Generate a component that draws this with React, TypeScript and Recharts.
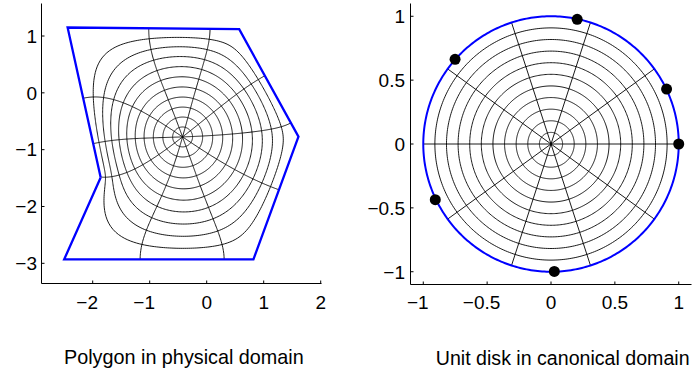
import React from 'react';
import { ScatterChart, Scatter, XAxis, YAxis } from 'recharts';

// ---------------- data ----------------
// Polygon vertices (physical domain), counter-clockwise, starting at the re-entrant corner
const VERTEX_X = [-1.86, -2.5, 0.82, 1.61, 0.57, -2.44];
const VERTEX_Y = [-1.49, -2.93, -2.93, -0.77, 1.12, 1.15];
// Prevertices on the unit circle (canonical domain), same order
const PREVERTEX_X = [1.0, 0.905, 0.205, -0.751, -0.906, 0.026];
const PREVERTEX_Y = [0.0, 0.43, 0.976, 0.663, -0.436, -0.998];
// Grid in the canonical domain
const GRID_RADII = [0.0909, 0.1818, 0.2727, 0.3636, 0.4545, 0.5455, 0.6364, 0.7273, 0.8182, 0.9091];
const GRID_ANGLES_DEG = [0, 36, 72, 108, 144, 180, 216, 252, 288, 324];
// Axes
const LEFT_X_TICKS = [-2, -1, 0, 1, 2];
const LEFT_Y_TICKS = [-3, -2, -1, 0, 1];
const LEFT_X_DOMAIN: [number, number] = [-2.898, 2.014];
const LEFT_Y_DOMAIN: [number, number] = [-3.355, 1.572];
const RIGHT_TICKS = [-1, -0.5, 0, 0.5, 1];
const RIGHT_DOMAIN: [number, number] = [-1.1, 1.1];
const TITLES = ['Polygon in physical domain', 'Unit disk in canonical domain'];

// ---------------- Schwarz–Christoffel disk map built from the data ----------------
type Cx = [number, number];
const N_V = VERTEX_X.length;
const preAng: number[] = PREVERTEX_X.map((x, i) => Math.atan2(PREVERTEX_Y[i], x));
const beta: number[] = VERTEX_X.map((_, k) => {
  const p = (k + N_V - 1) % N_V;
  const q = (k + 1) % N_V;
  const ix = VERTEX_X[k] - VERTEX_X[p];
  const iy = VERTEX_Y[k] - VERTEX_Y[p];
  const ox = VERTEX_X[q] - VERTEX_X[k];
  const oy = VERTEX_Y[q] - VERTEX_Y[k];
  const turn = Math.atan2(ix * oy - iy * ox, ix * ox + iy * oy);
  return -turn / Math.PI;
});

// prod (1 - z/w_k)^beta_k at z = r e^{i theta}, with q = 1 - r given accurately
function integrand(r: number, q: number, theta: number): Cx {
  let lr = 0;
  let li = 0;
  for (let k = 0; k < N_V; k++) {
    const phi = theta - preAng[k];
    const sh = Math.sin(phi / 2);
    const ur = q + 2 * r * sh * sh;
    const ui = -r * Math.sin(phi);
    lr += beta[k] * 0.5 * Math.log(ur * ur + ui * ui);
    li += beta[k] * Math.atan2(ui, ur);
  }
  const m = Math.exp(lr);
  return [m * Math.cos(li), m * Math.sin(li)];
}

function rayUniform(theta: number, n: number): Cx[] {
  const c = Math.cos(theta);
  const s = Math.sin(theta);
  const h = 1 / n;
  const out: Cx[] = [[0, 0]];
  let ar = 0;
  let ai = 0;
  for (let j = 0; j < n; j++) {
    const r = (j + 0.5) * h;
    const f = integrand(r, 1 - r, theta);
    ar += (f[0] * c - f[1] * s) * h;
    ai += (f[0] * s + f[1] * c) * h;
    out.push([ar, ai]);
  }
  return out;
}

function rayEnd(theta: number): Cx {
  const c = Math.cos(theta);
  const s = Math.sin(theta);
  const n = 6000;
  const p = 4;
  let ar = 0;
  let ai = 0;
  for (let j = 0; j < n; j++) {
    const t = (j + 0.5) / n;
    const q = Math.pow(1 - t, p);
    const dr = (p * Math.pow(1 - t, p - 1)) / n;
    const f = integrand(1 - q, q, theta);
    ar += (f[0] * c - f[1] * s) * dr;
    ai += (f[0] * s + f[1] * c) * dr;
  }
  return [ar, ai];
}

const Ik: Cx[] = preAng.map((a) => rayEnd(a));
let sIr = 0, sIi = 0, sII = 0, sVr = 0, sVi = 0, sIVr = 0, sIVi = 0;
for (let k = 0; k < N_V; k++) {
  const [a, b] = Ik[k];
  sIr += a; sIi += b; sII += a * a + b * b;
  sVr += VERTEX_X[k]; sVi += VERTEX_Y[k];
  sIVr += a * VERTEX_X[k] + b * VERTEX_Y[k];
  sIVi += a * VERTEX_Y[k] - b * VERTEX_X[k];
}
const det = N_V * sII - (sIr * sIr + sIi * sIi);
const Cr = (N_V * sIVr - (sIr * sVr + sIi * sVi)) / det;
const Ci = (N_V * sIVi - (sIr * sVi - sIi * sVr)) / det;
const Ar = (sVr - (sIr * Cr - sIi * Ci)) / N_V;
const Ai = (sVi - (sIr * Ci + sIi * Cr)) / N_V;
const mapPt = (I: Cx) => ({ x: Ar + Cr * I[0] - Ci * I[1], y: Ai + Cr * I[1] + Ci * I[0] });

const STEPS = 550;
const N_THETA = 360;
const rays: Cx[][] = [];
for (let j = 0; j < N_THETA; j++) rays.push(rayUniform((2 * Math.PI * j) / N_THETA, STEPS));

type P = { x: number; y: number };
const physCircles: P[][] = GRID_RADII.map((r) => {
  const idx = Math.round(r * STEPS);
  const pts = rays.map((ray) => mapPt(ray[idx]));
  pts.push(pts[0]);
  return pts;
});
const physRadials: P[][] = GRID_ANGLES_DEG.map((d) => {
  const ray = rays[Math.round((d / 360) * N_THETA) % N_THETA];
  const pts: P[] = [];
  for (let i = 0; i <= STEPS; i += 5) pts.push(mapPt(ray[i]));
  return pts;
});
const polygon: P[] = [...VERTEX_X.map((x, i) => ({ x, y: VERTEX_Y[i] })), { x: VERTEX_X[0], y: VERTEX_Y[0] }];

const circlePts = (r: number): P[] => {
  const pts: P[] = [];
  for (let j = 0; j <= 360; j++) {
    const t = (2 * Math.PI * j) / 360;
    pts.push({ x: r * Math.cos(t), y: r * Math.sin(t) });
  }
  return pts;
};
const diskCircles = GRID_RADII.map(circlePts);
const diskRadials: P[][] = GRID_ANGLES_DEG.map((d) => {
  const t = (d * Math.PI) / 180;
  return [{ x: 0, y: 0 }, { x: Math.cos(t), y: Math.sin(t) }];
});
const unitCircle = circlePts(1);
const preDots: P[] = PREVERTEX_X.map((x, i) => ({ x, y: PREVERTEX_Y[i] }));

// ---------------- rendering ----------------
const FONT = '"Liberation Sans", Arial, Helvetica, sans-serif';
const TICK_FS = 19;
const charW = (s: string) => {
  let w = 0;
  for (const ch of s) w += ch === '.' ? 0.278 : 0.556;
  return w * TICK_FS;
};
const fmtAbs = (v: number) => String(Math.abs(v));

const makeXTick = (baseline: number) => (props: any) => {
  const { x, payload } = props;
  const v = payload.value as number;
  const s = fmtAbs(v);
  const str = v < 0 ? '\u2212' + s : s;
  return (
    <text x={x + charW(s) / 2} y={baseline} textAnchor="end" fontFamily={FONT} fontSize={TICK_FS} fill="#000">
      {str}
    </text>
  );
};
const makeYTick = (right: number) => (props: any) => {
  const { y, payload } = props;
  const v = payload.value as number;
  const s = fmtAbs(v);
  const str = v < 0 ? '\u2212' + s : s;
  return (
    <text x={right} y={y + 6.8} textAnchor="end" fontFamily={FONT} fontSize={TICK_FS} fill="#000">
      {str}
    </text>
  );
};

const NoShape = () => <g />;
const DotShape = (props: any) => <circle cx={props.cx} cy={props.cy} r={5.5} fill="#000" />;

const gridLine = { stroke: '#000', strokeWidth: 0.9 };

function Axes(p: {
  xDomain: [number, number];
  yDomain: [number, number];
  xTicks: number[];
  yTicks: number[];
  yWidth: number;
  xBaseline: number;
  yRight: number;
}) {
  return [
    <XAxis
      key="xb"
      xAxisId="b"
      type="number"
      dataKey="x"
      domain={p.xDomain}
      ticks={p.xTicks}
      allowDataOverflow
      height={30}
      tickSize={-3}
      tickMargin={0}
      axisLine={{ stroke: '#000', strokeWidth: 1 }}
      tickLine={{ stroke: '#000' }}
      tick={makeXTick(p.xBaseline)}
    />,
    <XAxis
      key="xt"
      xAxisId="t"
      orientation="top"
      type="number"
      dataKey="x"
      domain={p.xDomain}
      ticks={p.xTicks}
      allowDataOverflow
      height={0}
      tickSize={-3}
      axisLine={{ stroke: '#000', strokeWidth: 1 }}
      tickLine={{ stroke: '#000' }}
      tick={false}
    />,
    <YAxis
      key="yl"
      yAxisId="l"
      type="number"
      dataKey="y"
      domain={p.yDomain}
      ticks={p.yTicks}
      allowDataOverflow
      width={p.yWidth}
      tickSize={-3}
      tickMargin={0}
      axisLine={{ stroke: '#000', strokeWidth: 1 }}
      tickLine={{ stroke: '#000' }}
      tick={makeYTick(p.yRight)}
    />,
    <YAxis
      key="yr"
      yAxisId="r"
      orientation="right"
      type="number"
      dataKey="y"
      domain={p.yDomain}
      ticks={p.yTicks}
      allowDataOverflow
      width={0}
      tickSize={-3}
      axisLine={{ stroke: '#000', strokeWidth: 1 }}
      tickLine={{ stroke: '#000' }}
      tick={false}
    />,
  ];
}

export default function App() {
  return (
    <div style={{ position: 'absolute', left: 0, top: 0, width: 696, height: 376, background: '#fff' }}>
      <div style={{ position: 'absolute', left: 0, top: 0 }}>
        <ScatterChart width={348} height={376} margin={{ top: 3.5, right: 26.5, bottom: 62.5, left: 0 }}>
          {Axes({
            xDomain: LEFT_X_DOMAIN,
            yDomain: LEFT_Y_DOMAIN,
            xTicks: LEFT_X_TICKS,
            yTicks: LEFT_Y_TICKS,
            yWidth: 41.5,
            xBaseline: 309,
            yRight: 37,
          })}
          {physCircles.map((pts, i) => (
            <Scatter key={'c' + i} xAxisId="b" yAxisId="l" data={pts} line={gridLine} shape={NoShape} isAnimationActive={false} />
          ))}
          {physRadials.map((pts, i) => (
            <Scatter key={'r' + i} xAxisId="b" yAxisId="l" data={pts} line={gridLine} shape={NoShape} isAnimationActive={false} />
          ))}
          <Scatter xAxisId="b" yAxisId="l" data={polygon} line={{ stroke: '#0000ff', strokeWidth: 2.3 }} shape={NoShape} isAnimationActive={false} />
        </ScatterChart>
      </div>
      <div style={{ position: 'absolute', left: 348, top: 0 }}>
        <ScatterChart width={348} height={376} margin={{ top: 3.5, right: 4.5, bottom: 61.5, left: 0 }}>
          {Axes({
            xDomain: RIGHT_DOMAIN,
            yDomain: RIGHT_DOMAIN,
            xTicks: RIGHT_TICKS,
            yTicks: RIGHT_TICKS,
            yWidth: 62.5,
            xBaseline: 309,
            yRight: 57,
          })}
          {diskCircles.map((pts, i) => (
            <Scatter key={'c' + i} xAxisId="b" yAxisId="l" data={pts} line={gridLine} shape={NoShape} isAnimationActive={false} />
          ))}
          {diskRadials.map((pts, i) => (
            <Scatter key={'r' + i} xAxisId="b" yAxisId="l" data={pts} line={gridLine} shape={NoShape} isAnimationActive={false} />
          ))}
          <Scatter xAxisId="b" yAxisId="l" data={unitCircle} line={{ stroke: '#0000ff', strokeWidth: 2 }} shape={NoShape} isAnimationActive={false} />
          <Scatter xAxisId="b" yAxisId="l" data={preDots} shape={DotShape} isAnimationActive={false} />
        </ScatterChart>
      </div>
      <svg width={696} height={376} style={{ position: 'absolute', left: 0, top: 0, pointerEvents: 'none' }}>
        <text x={64} y={364} fontFamily={FONT} fontSize={19.8} fill="#000">
          {TITLES[0]}
        </text>
        <text x={435.8} y={365.3} fontFamily={FONT} fontSize={19.6} fill="#000">
          {TITLES[1]}
        </text>
      </svg>
    </div>
  );
}
